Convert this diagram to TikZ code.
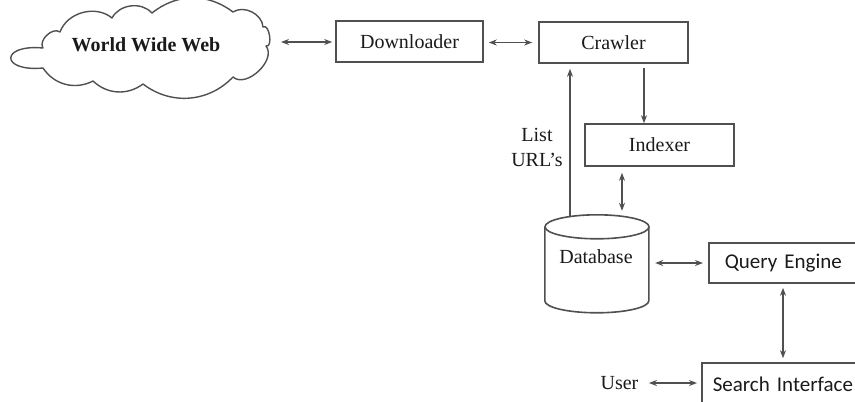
\documentclass[tikz,border=0pt]{standalone}
\usepackage{fontspec}
\setmainfont{Liberation Serif}
\newfontfamily\calfont{Carlito}
\usetikzlibrary{arrows.meta,calc}
\definecolor{linegray}{HTML}{505050}
\definecolor{inkgray}{HTML}{1A1A1A}

\begin{document}
\begin{tikzpicture}[x=1pt,y=-1pt,
  tip/.tip={Stealth[length=8pt,width=6pt]},
  line/.style={draw=linegray, line width=1.6pt},
  box/.style={draw=linegray, line width=1.6pt, rectangle, inner sep=0pt},
  lbl/.style={font=\fontsize{20}{25}\selectfont, text=inkgray},
  cal/.style={font=\calfont\fontsize{21}{25}\selectfont, text=inkgray},
  both/.style={line, tip-tip},
  oneway/.style={line, -tip}]
\useasboundingbox (0,0) rectangle (855,402);

% the web: a hand-drawn cloud outline
\draw[draw=linegray, line width=1.4pt, line join=round]
  (43,68) .. controls (0,72) and (0,44) .. (43,48)
  to[bend left=80] (60,32)
  to[bend left=55] (112,18)
  to[bend left=55] (152,13)
  to[bend left=38] (233,12)
  to[bend left=60] (263,27)
  to[bend left=115] (266,46)
  to[bend left=85] (233,77)
  to[bend left=42] (143,84)
  to[bend left=40] (93,81)
  to[bend left=42] cycle;
\node[font=\bfseries\fontsize{20}{24}\selectfont, text=inkgray] (www) at (146,45) {World Wide Web};
\coordinate (wwwedge) at (278,42);

% boxes
\node[box, lbl, minimum width=147pt, minimum height=41pt] (dl) at (409.5,41.5) {Downloader};
\node[box, lbl, minimum width=149pt, minimum height=41pt] (cr) at (613.5,42.5) {Crawler};
\node[box, lbl, minimum width=149pt, minimum height=42pt] (ix) at (659.5,145) {Indexer};
\node[box, cal, anchor=west, minimum height=40pt, text width=130pt, inner xsep=16pt,
      align=left] (qe) at (708,263) {Query Engine};
\node[box, cal, anchor=west, minimum height=42pt, text width=150pt, inner xsep=11pt,
      align=left] (si) at (701,384) {Search Interface};

% database cylinder
\node[minimum width=104pt, minimum height=98pt, inner sep=0pt] (db) at (597,264) {};
\draw[line] (db.north west) ++(0,12) -- ++(0,74) arc (180:360:52pt and 12pt) -- ++(0,-74);
\draw[line] ($(db.north)+(0,12)$) ellipse [x radius=52pt, y radius=12pt];
\node[lbl] (dbtext) at (596,257) {Database};

% side labels
\node[lbl, align=center] (urls) at (537,147) {List\\URL's};
\node[lbl] (user) at (619.5,383) {User};

% connectors
\draw[both, shorten <=3pt, shorten >=3pt] (wwwedge) -- (wwwedge -| dl.west);
\draw[both, shorten <=5pt, shorten >=6pt] (dl.east |- cr.west) -- (cr.west);
\draw[oneway, shorten <=4pt] ([xshift=30.5pt]cr.south) -- ([xshift=30.5pt]cr.south |- ix.north);
\draw[oneway, shorten >=5pt] ([xshift=-27pt,yshift=-2pt]db.north) -- ([xshift=-27pt]db.north |- cr.south);
\draw[both, shorten <=6pt, shorten >=4pt] ([xshift=-37.5pt]ix.south) -- ([xshift=-37.5pt]ix.south |- db.north);
\draw[both, shorten <=6pt, shorten >=5pt] (db.east |- qe.west) -- (qe.west);
\draw[both, shorten <=4pt, shorten >=4pt] (qe.south west -| 783,0) -- (si.north west -| 783,0);
\draw[both, shorten <=7pt, shorten >=4pt] (user.east) -- (si.west |- user.east);
\end{tikzpicture}
\end{document}
